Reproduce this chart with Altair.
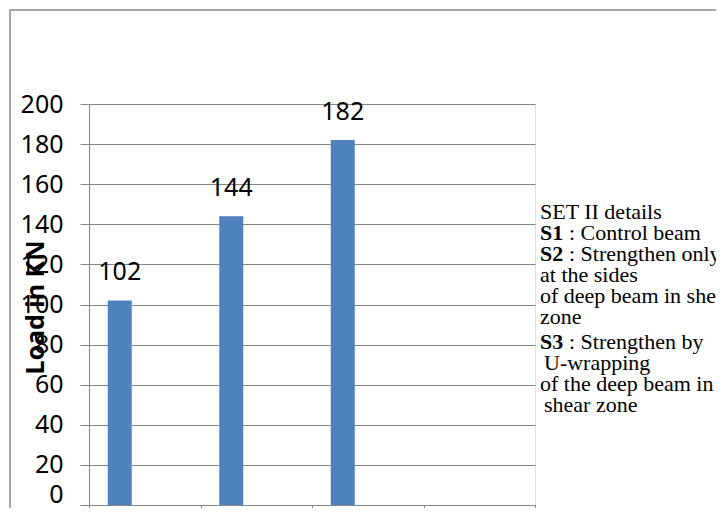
import altair as alt
import pandas as pd

# ---- data ----
categories = ["S1", "S2", "S3"]
slots = ["S1", "S2", "S3", ""]          # fourth (empty) category slot on the axis
loads = [102, 144, 182]
y_ticks = [0, 20, 40, 60, 80, 100, 120, 140, 160, 180, 200]
y_title = "Load in KN"

legend_bold = ["", "S1", "S2", "", "", "", "S3", "", "", ""]
legend_rest = [
    "SET II details",
    ": Control beam",
    ": Strengthen only",
    "at the sides",
    "of deep beam in shear",
    "zone",
    ": Strengthen by",
    "U-wrapping",
    "of the deep beam in",
    "shear zone",
]
legend_indent = [0, 0, 0, 0, 0, 0, 0, 1, 0, 1]

df = pd.DataFrame({"cat": categories, "load": loads})

GRID = "#868686"
AX_FONT = "Noto Sans"
SERIF = "Liberation Serif"

x_enc = alt.X(
    "cat:N",
    scale=alt.Scale(domain=slots, paddingInner=0, paddingOuter=0),
    axis=alt.Axis(
        title=None, labels=False, tickBand="extent", tickSize=10,
        tickColor=GRID, domainColor=GRID, grid=False, domainWidth=1, tickWidth=1,
    ),
)
y_enc = alt.Y(
    "load:Q",
    scale=alt.Scale(domain=[0, 200], nice=False, zero=True),
    axis=alt.Axis(
        values=y_ticks, title=y_title, grid=True, gridColor=GRID, gridWidth=1,
        tickColor=GRID, tickSize=9, domainColor=GRID, domainWidth=1,
        labelFont=AX_FONT, labelFontSize=25, labelColor="#000000", labelPadding=17,
        labelBaseline=alt.condition("datum.value == 0", alt.value("bottom"), alt.value("middle")),
        labelOffset=alt.condition("datum.value == 0", alt.value(2), alt.value(0)),
        titleFont=AX_FONT, titleFontSize=25, titleFontWeight="bold", titleColor="#000000",
        titleAngle=270, titleX=-46, titleY=203, titleAlign="center",
        titleBaseline="alphabetic",
    ),
)

base = alt.Chart(df).encode(x=x_enc, y=y_enc)
bars = base.mark_bar(size=24, xOffset=-25, color="#4F81BD")
labels = base.mark_text(
    dx=-25, dy=-20, baseline="alphabetic", align="center",
    font=AX_FONT, fontSize=25, color="#000000",
).encode(text="load:Q")

frame = alt.Chart(pd.DataFrame({"f": [0]})).mark_rect(
    fill="transparent", stroke="#8a8a8a", strokeWidth=1.5
).encode(
    x=alt.value(-79), x2=alt.value(740), y=alt.value(-94), y2=alt.value(470)
)

layers = [frame, bars, labels]

LX = 451
LINE = 21
for i, (b, r, ind) in enumerate(zip(legend_bold, legend_rest, legend_indent)):
    yy = 115 + LINE * i + (4 if i >= 6 else 0)
    if b:
        layers.append(
            alt.Chart(pd.DataFrame({"t": [b]})).mark_text(
                align="left", baseline="alphabetic", font=SERIF, fontSize=22,
                fontWeight="bold", color="#000000",
            ).encode(text="t:N", x=alt.value(LX), y=alt.value(yy))
        )
        rx = LX + 29
    else:
        rx = LX + 4 * ind
    layers.append(
        alt.Chart(pd.DataFrame({"t": [r]})).mark_text(
            align="left", baseline="alphabetic", font=SERIF, fontSize=22,
            color="#000000",
        ).encode(text="t:N", x=alt.value(rx), y=alt.value(yy))
    )

chart = alt.layer(*layers).properties(
    width=446, height=401,
    autosize=alt.AutoSizeParams(type="none"),
    padding={"left": 81, "top": 96, "right": 181, "bottom": 3},
).configure_view(stroke=None).configure(background="white")

chart.save("out.html", embed_options={"renderer": "svg", "actions": False})
